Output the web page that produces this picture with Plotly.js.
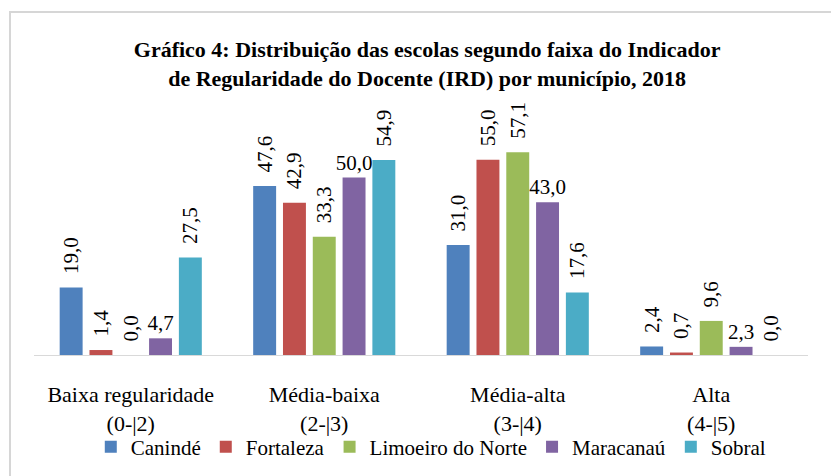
<!DOCTYPE html>
<html>
<head>
<meta charset="utf-8">
<script src="https://cdn.plot.ly/plotly-3.0.1.min.js"></script>
<style>
  html, body { margin: 0; padding: 0; background: #fff; }
  #wrap { position: relative; width: 831px; height: 476px; overflow: hidden; }
  #chart { position: absolute; left: 0; top: 0; width: 831px; height: 476px; }
  #frame { position: absolute; left: 9px; top: 11px; width: 840px; height: 480px;
           border-left: 2px solid #d6d6d6; border-top: 2px solid #d6d6d6; pointer-events: none; }
</style>
</head>
<body>
<div id="wrap"><div id="chart"></div><div id="frame"></div></div>
<script>
const categories = [
  "Baixa regularidade<br>(0-|2)",
  "Média-baixa<br>(2-|3)",
  "Média-alta<br>(3-|4)",
  "Alta<br>(4-|5)"
];
const seriesNames = ["Canindé", "Fortaleza", "Limoeiro do Norte", "Maracanaú", "Sobral"];
const caninde   = [19.0, 47.6, 31.0, 2.4];
const fortaleza = [1.4, 42.9, 55.0, 0.7];
const limoeiro  = [0.0, 33.3, 57.1, 9.6];
const maracanau = [4.7, 50.0, 43.0, 2.3];
const sobral    = [27.5, 54.9, 17.6, 0.0];
const seriesValues = [caninde, fortaleza, limoeiro, maracanau, sobral];
const colors = ["#4F81BD", "#C0504D", "#9BBB59", "#8064A2", "#4BACC6"];

const serif = "Liberation Serif";

const traces = seriesNames.map((name, i) => {
  const horizontal = (i === 3);
  return {
    type: "bar",
    name: name,
    x: categories,
    y: seriesValues[i],
    marker: { color: colors[i], line: { width: 0 } },
    texttemplate: horizontal ? "%{y:.1f}" : "\u00a0\u00a0%{y:.1f}",
    textposition: "outside",
    textangle: horizontal ? 0 : -90,
    constraintext: "none",
    cliponaxis: false,
    textfont: { family: serif, size: 21, color: "#000" },
    hoverinfo: "none"
  };
});

const layout = {
  width: 831,
  height: 476,
  paper_bgcolor: "rgba(0,0,0,0)",
  plot_bgcolor: "rgba(0,0,0,0)",
  separators: ",.",
  margin: { l: 34, r: 23, t: 142, b: 121 },
  barmode: "group",
  bargap: 0.23,
  bargroupgap: 0.23,
  showlegend: true,
  title: {
    text: "<b>Gráfico 4: Distribuição das escolas segundo faixa do Indicador<br>de Regularidade do Docente (IRD) por município, 2018</b>",
    font: { family: serif, size: 22, color: "#000" },
    x: 0.514, xref: "container", xanchor: "center",
    y: 0.88, yref: "container", yanchor: "top"
  },
  xaxis: {
    type: "category",
    showline: true,
    linecolor: "#d9d9d9",
    linewidth: 1,
    ticks: "",
    showgrid: false,
    zeroline: false,
    ticklabelstandoff: 20,
    tickfont: { family: serif, size: 22, color: "#000" }
  },
  yaxis: {
    range: [0, 60],
    showgrid: false,
    zeroline: false,
    showline: false,
    showticklabels: false,
    ticks: ""
  },
  legend: {
    orientation: "h",
    xref: "container", x: 0.519, xanchor: "center",
    yref: "container", y: 1 - 447 / 476, yanchor: "middle",
    font: { family: serif, size: 21, color: "#000" },
    itemwidth: 30,
    bgcolor: "rgba(0,0,0,0)",
    traceorder: "normal"
  }
};

Plotly.newPlot("chart", traces, layout, { displayModeBar: false, staticPlot: true });
</script>
</body>
</html>
